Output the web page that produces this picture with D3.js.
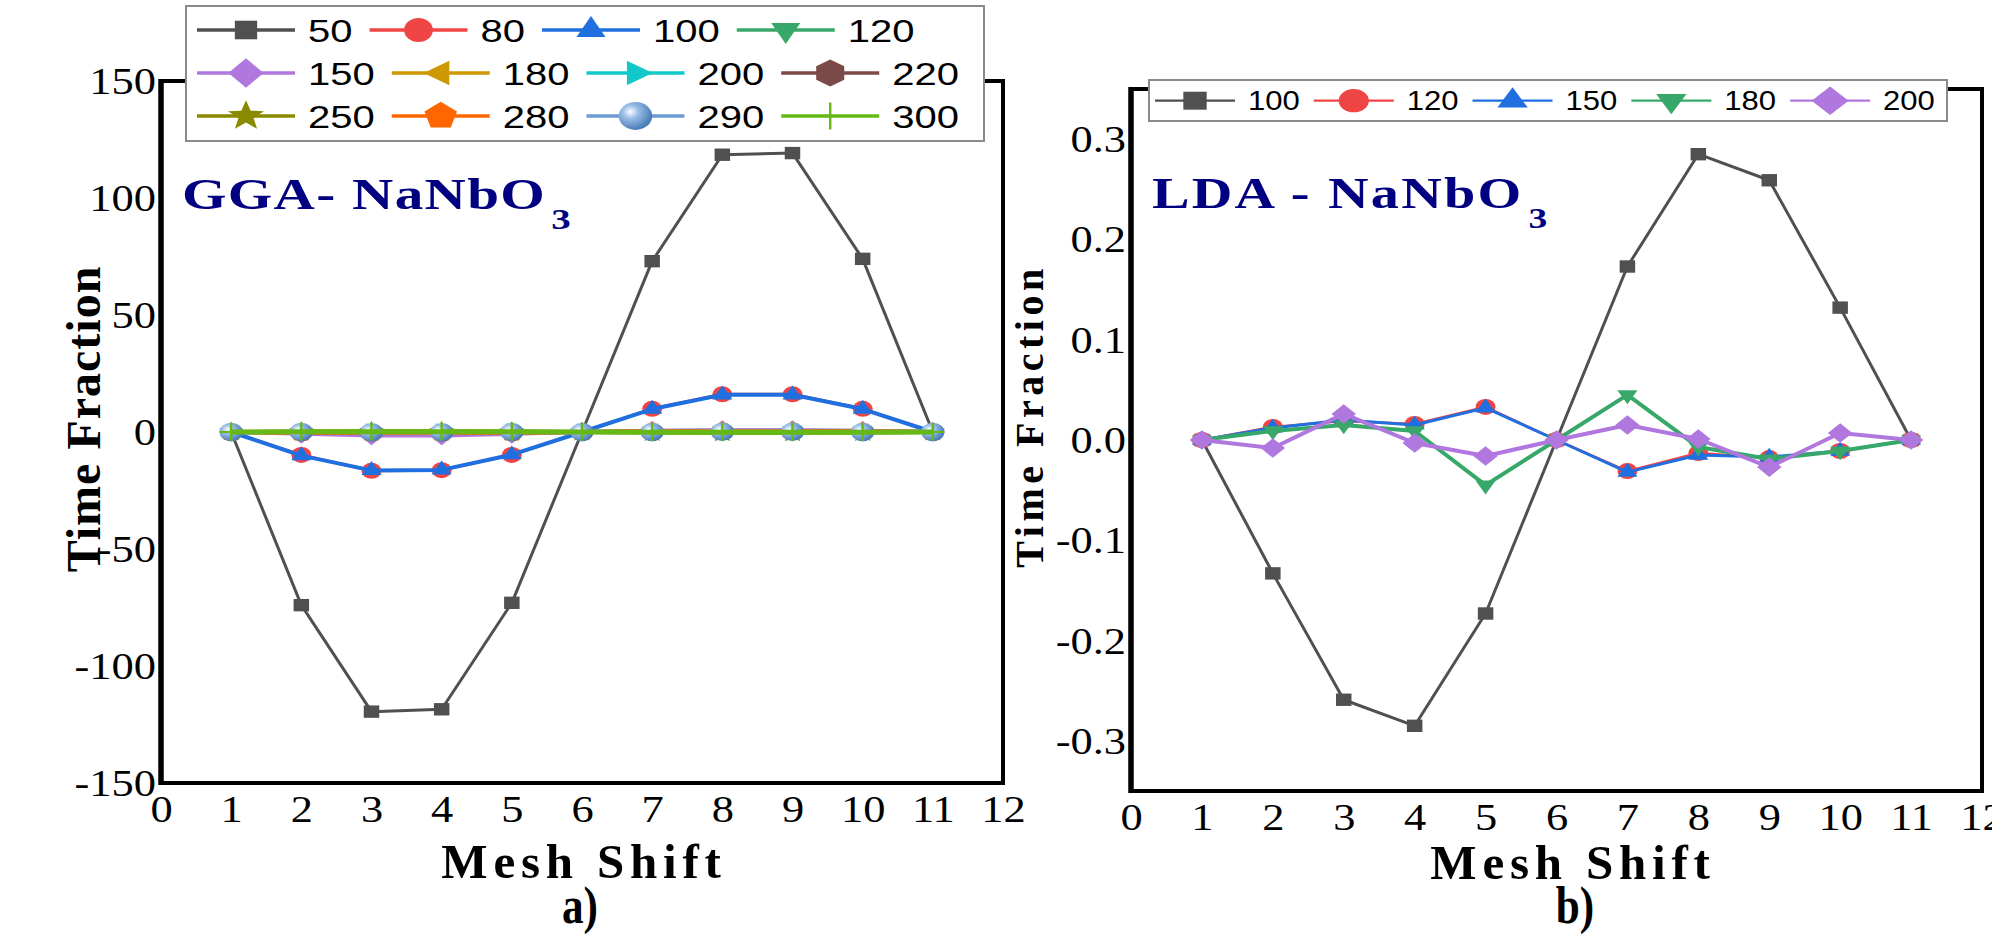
<!DOCTYPE html>
<html>
<head>
<meta charset="utf-8">
<script src="https://cdn.jsdelivr.net/npm/d3@7"></script>
<style>
  html, body { margin: 0; padding: 0; background: #fff; }
  svg { display: block; }
</style>
</head>
<body>
<svg id="chart" width="1992" height="935"></svg>
<script>
// mesh shift positions and tick labels
const meshShift = [1, 2, 3, 4, 5, 6, 7, 8, 9, 10, 11];
const xTickValues = [0, 1, 2, 3, 4, 5, 6, 7, 8, 9, 10, 11, 12];
const ggaTickValues = [-150, -100, -50, 0, 50, 100, 150];
const ldaTickValues = [-0.3, -0.2, -0.1, 0, 0.1, 0.2, 0.3];

// a) GGA - NaNbO3
const ggaNames = ["50", "80", "100", "120", "150", "180", "200", "220", "250", "280", "290", "300"];
const gga50  = [0, -74.0, -119.5, -118.5, -73.0, 0, 73.0, 118.5, 119.2, 74.0, 0];
const gga80  = [0, -9.8, -16.6, -16.3, -9.8, 0, 9.9, 16.1, 16.1, 9.9, 0];
const gga100 = [0, -10.1, -16.4, -16.2, -9.7, 0, 9.8, 15.9, 15.9, 9.8, 0];
const gga120 = [0, -0.4, -0.6, -0.6, -0.4, 0, 0.4, 0.6, 0.6, 0.4, 0];
const gga150 = [0, -0.8, -1.5, -1.5, -0.8, 0, 0.5, 0.8, 0.8, 0.5, 0];
const gga180 = [0, -0.2, -0.3, -0.3, -0.2, 0, 0.2, 0.3, 0.3, 0.2, 0];
const gga200 = [0, 0.1, 0.2, 0.2, 0.1, 0, -0.1, -0.2, -0.2, -0.1, 0];
const gga220 = [0, -0.1, -0.2, -0.2, -0.1, 0, 0.1, 0.2, 0.2, 0.1, 0];
const gga250 = [0, 0.2, 0.3, 0.3, 0.2, 0, -0.2, -0.3, -0.3, -0.2, 0];
const gga280 = [0, -0.3, -0.4, -0.4, -0.3, 0, 0.3, 0.4, 0.4, 0.3, 0];
const gga290 = [0, 0.0, -0.1, -0.1, 0.0, 0, 0.0, 0.1, 0.1, 0.0, 0];
const gga300 = [0, 0.1, 0.1, 0.1, 0.1, 0, -0.1, -0.1, -0.1, -0.1, 0];
const ggaColors = ["#505050", "#f04545", "#1f6fe0", "#38a86a", "#b077de", "#cc9900",
                   "#12c8c8", "#7b4a48", "#8a8a00", "#ff6600", "#6c9bd2", "#66b814"];
const ggaShapes = ["square", "circle", "up", "down", "diamond", "left",
                   "right", "hexagon", "star", "pentagon", "sphere", "plus"];
const ggaWidths = [3, 3, 4, 4, 4, 4, 4, 4, 4, 4, 4, 5];

// b) LDA - NaNbO3
const ldaNames = ["100", "120", "150", "180", "200"];
const lda100 = [0, -0.133, -0.259, -0.285, -0.173, 0, 0.173, 0.285, 0.259, 0.132, 0];
const lda120 = [0, 0.013, 0.019, 0.016, 0.033, 0, -0.031, -0.013, -0.018, -0.011, 0];
const lda150 = [0, 0.012, 0.020, 0.015, 0.032, 0, -0.032, -0.015, -0.017, -0.011, 0];
const lda180 = [0, 0.009, 0.015, 0.009, -0.045, 0, 0.045, -0.007, -0.019, -0.011, 0];
const lda200 = [0, -0.008, 0.026, -0.003, -0.016, 0, 0.015, 0.001, -0.027, 0.007, 0];
const ldaColors = ["#505050", "#f04545", "#1f6fe0", "#38a86a", "#b077de"];
const ldaShapes = ["square", "circle", "up", "down", "diamond"];
const ldaWidths = [3, 2.5, 3, 4, 4];

const svg = d3.select("#chart");
const serif = "'Liberation Serif','Times New Roman',serif";
const sans = "'Liberation Sans',Arial,sans-serif";
const hyphen = f => d => f(d).replace("\u2212", "-");

// sphere gradient for the 290 series
const grad = svg.append("defs").append("radialGradient")
  .attr("id", "sphere").attr("cx", "35%").attr("cy", "35%").attr("r", "65%");
grad.append("stop").attr("offset", "0%").attr("stop-color", "#ffffff");
grad.append("stop").attr("offset", "35%").attr("stop-color", "#9cc0e8");
grad.append("stop").attr("offset", "100%").attr("stop-color", "#4a7cb8");

const markerR = { square: 6.2, circle: 8, up: 9.3, down: 9.3, left: 9.5, right: 9.5, diamond: 9.8,
                  hexagon: 9, star: 10.5, pentagon: 9.5, sphere: 9.3, plus: 9 };

function markerPath(shape, r) {
  const p = d3.path();
  const poly = pts => { pts.forEach((q, i) => i ? p.lineTo(q[0], q[1]) : p.moveTo(q[0], q[1])); p.closePath(); };
  const ring = (n, rot) => d3.range(n).map(i => {
    const a = rot + i * 2 * Math.PI / n;
    return [r * Math.cos(a), r * Math.sin(a)];
  });
  switch (shape) {
    case "square": p.rect(-r, -r, 2 * r, 2 * r); break;
    case "circle": case "sphere": p.arc(0, 0, r, 0, 2 * Math.PI); break;
    case "up": poly(ring(3, -Math.PI / 2)); break;
    case "down": poly(ring(3, Math.PI / 2)); break;
    case "left": poly(ring(3, Math.PI)); break;
    case "right": poly(ring(3, 0)); break;
    case "diamond": poly(ring(4, -Math.PI / 2)); break;
    case "hexagon": poly(ring(6, -Math.PI / 2)); break;
    case "pentagon": poly(ring(5, -Math.PI / 2)); break;
    case "star":
      poly(d3.range(10).map(i => {
        const a = -Math.PI / 2 + i * Math.PI / 5, rr = i % 2 ? r * 0.42 : r;
        return [rr * Math.cos(a), rr * Math.sin(a)];
      }));
      break;
    case "plus": p.moveTo(-r, 0); p.lineTo(r, 0); p.moveTo(0, -r); p.lineTo(0, r); break;
  }
  return p.toString();
}

function drawMarker(g, shape, color, x, y, r, kx) {
  const m = g.append("path")
    .attr("d", markerPath(shape, r))
    .attr("transform", `translate(${x},${y}) scale(${kx},1)`);
  if (shape === "plus") m.attr("fill", "none").attr("stroke", color).attr("stroke-width", 2 / kx * 1.2);
  else if (shape === "sphere") m.attr("fill", "url(#sphere)");
  else m.attr("fill", color);
}

function stretchedText(g, x, y, str, size, kx, opts = {}) {
  return g.append("text")
    .attr("transform", `translate(${x},${y}) scale(${kx},1)`)
    .attr("font-family", opts.family || serif)
    .attr("font-size", size)
    .attr("font-weight", opts.weight || "normal")
    .attr("text-anchor", opts.anchor || "start")
    .attr("letter-spacing", opts.ls || 0)
    .attr("fill", opts.fill || "#000")
    .text(str);
}

function drawPanel(cfg) {
  const g = svg.append("g");
  const x = d3.scaleLinear().domain([0, 12]).range([cfg.left, cfg.right]);
  const y = d3.scaleLinear().domain(cfg.yDomain).range([cfg.bottom, cfg.top]);

  // axes (labels only; frame drawn separately)
  const tk = 1.17;
  const ya = g.append("g").attr("transform", `translate(${cfg.left},0)`)
    .call(d3.axisLeft(y).tickValues(cfg.yTicks).tickSize(0).tickFormat(hyphen(cfg.yFormat)));
  ya.select(".domain").remove();
  ya.selectAll("text")
    .attr("font-family", serif).attr("font-size", 38).attr("fill", "#000")
    .attr("x", -5 / tk).attr("dy", "0.33em")
    .attr("transform", `scale(${tk},1)`);

  const xa = g.append("g").attr("transform", `translate(0,${cfg.bottom})`)
    .call(d3.axisBottom(x).tickValues(xTickValues).tickSize(0).tickPadding(12).tickFormat(d3.format("d")));
  xa.select(".domain").remove();
  xa.selectAll("text")
    .attr("font-family", serif).attr("font-size", 38).attr("fill", "#000")
    .attr("transform", `scale(${tk},1)`);

  // frame
  g.append("rect")
    .attr("x", cfg.left).attr("y", cfg.top)
    .attr("width", cfg.right - cfg.left).attr("height", cfg.bottom - cfg.top)
    .attr("fill", "none").attr("stroke", "#000").attr("stroke-width", 4);
  g.append("line")
    .attr("x1", cfg.left).attr("x2", cfg.left).attr("y1", cfg.top - 2).attr("y2", cfg.bottom + 2)
    .attr("stroke", "#000").attr("stroke-width", 5.5);

  // series
  const line = d3.line().x((d, i) => x(meshShift[i])).y(d => y(d));
  cfg.series.forEach((vals, si) => {
    const sg = g.append("g");
    sg.append("path").datum(vals)
      .attr("d", line)
      .attr("fill", "none")
      .attr("stroke", cfg.colors[si])
      .attr("stroke-width", cfg.widths[si])
      .attr("stroke-linejoin", "round");
    vals.forEach((v, i) => {
      drawMarker(sg, cfg.shapes[si], cfg.colors[si], x(meshShift[i]), y(v), markerR[cfg.shapes[si]], 1.25);
    });
  });

  // legend
  const L = cfg.legend;
  const lg = g.append("g");
  lg.append("rect")
    .attr("x", L.x).attr("y", L.y).attr("width", L.w).attr("height", L.h)
    .attr("fill", "#fff").attr("stroke", "#8a8a8a").attr("stroke-width", 2);
  cfg.names.forEach((name, i) => {
    const row = Math.floor(i / L.perRow), col = i % L.perRow;
    if (col === 0) L.cursor = L.x0;
    const cy = L.rows[row];
    const x0 = L.cursor;
    lg.append("line")
      .attr("x1", x0).attr("x2", x0 + L.lineLen).attr("y1", cy).attr("y2", cy)
      .attr("stroke", cfg.colors[i]).attr("stroke-width", L.lw);
    drawMarker(lg, cfg.shapes[i], cfg.colors[i], x0 + L.lineLen / 2, cy,
      markerR[cfg.shapes[i]] * L.mk, L.kx);
    const t = stretchedText(lg, x0 + L.lineLen + L.gap, cy + L.base, name, L.size, L.tk, { family: sans });
    L.cursor = x0 + L.lineLen + L.gap + t.node().getComputedTextLength() * L.tk + L.after;
  });

  // annotation with subscript (horizontally stretched like the original)
  const A = cfg.note;
  const ann = g.append("text")
    .attr("transform", `translate(${A.x},${A.y}) scale(${A.kx},1)`)
    .attr("font-family", serif).attr("font-weight", "bold")
    .attr("font-size", A.size).attr("letter-spacing", A.ls).attr("fill", "#000080");
  ann.append("tspan").text(A.text);
  ann.append("tspan").attr("font-size", A.sub).attr("dx", 4).attr("dy", 20).attr("letter-spacing", 0).text("3");

  // axis titles
  g.append("text")
    .attr("transform", `translate(${cfg.yTitle.x},${cfg.yTitle.y}) rotate(-90)`)
    .attr("font-family", serif).attr("font-weight", "bold")
    .attr("font-size", cfg.yTitle.size).attr("letter-spacing", cfg.yTitle.ls)
    .attr("text-anchor", "middle").text("Time Fraction");
  g.append("text")
    .attr("x", cfg.xTitle.x).attr("y", cfg.xTitle.y)
    .attr("font-family", serif).attr("font-weight", "bold")
    .attr("font-size", 49).attr("letter-spacing", 5.8)
    .attr("text-anchor", "middle").text("Mesh Shift");
  g.append("text")
    .attr("transform", `translate(${cfg.tag.x},${cfg.tag.y}) scale(1.08,1.3)`)
    .attr("font-family", serif).attr("font-weight", "bold")
    .attr("font-size", 40).attr("text-anchor", "middle").text(cfg.tag.text);
}

drawPanel({
  left: 161, right: 1003, top: 81, bottom: 783,
  yDomain: [-150, 150], yTicks: ggaTickValues, yFormat: d3.format("d"),
  names: ggaNames,
  series: [gga50, gga80, gga100, gga120, gga150, gga180, gga200, gga220, gga250, gga280, gga290, gga300],
  colors: ggaColors, shapes: ggaShapes, widths: ggaWidths,
  legend: { x: 186, y: 6, w: 798, h: 135, x0: 197, rows: [30, 73, 116], perRow: 4,
            lineLen: 98, gap: 13, after: 17, lw: 3.3, size: 32, tk: 1.25, base: 12, mk: 1.5, kx: 1.2 },
  note: { x: 182, y: 209, size: 44, ls: 1, kx: 1.3, sub: 30, text: "GGA- NaNbO" },
  yTitle: { x: 100, y: 419, size: 48, ls: 1 },
  xTitle: { x: 584, y: 878 },
  tag: { x: 580, y: 923, text: "a)" }
});

drawPanel({
  left: 1131, right: 1982, top: 89, bottom: 791,
  yDomain: [-0.35, 0.35], yTicks: ldaTickValues, yFormat: d3.format(".1f"),
  names: ldaNames,
  series: [lda100, lda120, lda150, lda180, lda200],
  colors: ldaColors, shapes: ldaShapes, widths: ldaWidths,
  legend: { x: 1149, y: 80, w: 798, h: 41, x0: 1155, rows: [100.7], perRow: 5,
            lineLen: 80, gap: 13, after: 14, lw: 2.2, size: 27, tk: 1.15, base: 9.7, mk: 1.45, kx: 1.3 },
  note: { x: 1152, y: 208, size: 45, ls: 1.8, kx: 1.25, sub: 30, text: "LDA - NaNbO" },
  yTitle: { x: 1043, y: 416, size: 40, ls: 4.5 },
  xTitle: { x: 1573, y: 879 },
  tag: { x: 1575, y: 923, text: "b)" }
});
</script>
</body>
</html>
